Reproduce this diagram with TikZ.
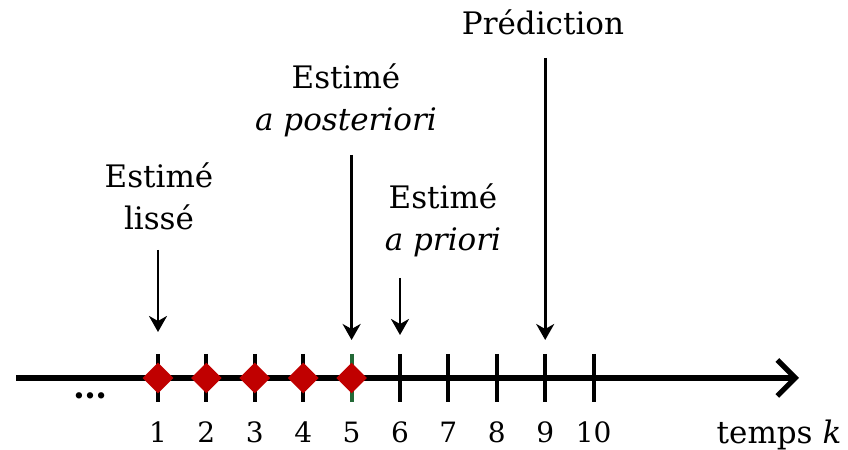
\documentclass[tikz,border=0pt]{standalone}
\usepackage{fontspec}
\setmainfont{DejaVu Serif}
\usetikzlibrary{arrows.meta,shapes.geometric}
\definecolor{markred}{RGB}{192,0,0}
\definecolor{tickgreen}{RGB}{35,105,55}
\tikzset{
  timeln/.style={-{Straight Barb[length=9pt,width=18pt,line width=2.6pt]}, line width=2.8pt},
  tickln/.style={line width=2pt},
  pointer/.style={-{Stealth[length=8pt,width=9pt,inset=2.5pt]}, line width=1.35pt},
  estmark/.style={diamond, fill=markred, inner sep=0pt, minimum width=15.5pt, minimum height=15.5pt},
  lbl/.style={align=center, font=\fontsize{15.5}{21}\selectfont},
  numlbl/.style={anchor=base, font=\fontsize{14}{16}\selectfont},
}

\begin{document}
\begin{tikzpicture}[x=0.5pt, y=0.5pt]
    \useasboundingbox (0,0) rectangle (848,450);
    % time axis
    \coordinate (ax0) at (16,72);
    \coordinate (ax1) at (799,72);
    \draw[timeln] (ax0) -- (ax1);
    \foreach \i/\col in {1/black,2/black,3/black,4/black,5/tickgreen,
                         6/black,7/black,8/black,9/black,10/black} {
      \coordinate (tk\i) at ({158+48.4*(\i-1)},72);
      \draw[tickln, \col] ([yshift=12pt]tk\i) -- ([yshift=-12pt]tk\i);
      \node[numlbl] (n\i) at ({158+48.4*(\i-1)},7) {\i};
    }
    \node[font=\fontsize{17}{18}\selectfont\bfseries] (dots) at (90,54) {\ldots};
    \node[numlbl, font=\fontsize{15.5}{18}\selectfont] (tlbl) at (779,6) {temps \textit{k}};
    % estimates
    \foreach \i in {1,...,5}
      \node[estmark] (m\i) at (tk\i) {};
    % labels
    \node[lbl] (lisse) at (159,254) {Estimé\\lissé};
    \node[lbl] (post) at (346,350) {Estimé\\\textit{a posteriori}};
    \node[lbl] (prio) at (443,230) {Estimé\\\textit{a priori}};
    \node[lbl] (pred) at (543,428) {Prédiction};
    \draw[pointer] ([yshift=64pt]tk1) -- ([yshift=23pt]tk1);
    \draw[pointer] ([yshift=111.5pt]tk5) -- ([yshift=19pt]tk5);
    \draw[pointer] ([yshift=50pt]tk6) -- ([yshift=21.5pt]tk6);
    \draw[pointer] ([yshift=160pt]tk9) -- ([yshift=19pt]tk9);
\end{tikzpicture}
\end{document}
